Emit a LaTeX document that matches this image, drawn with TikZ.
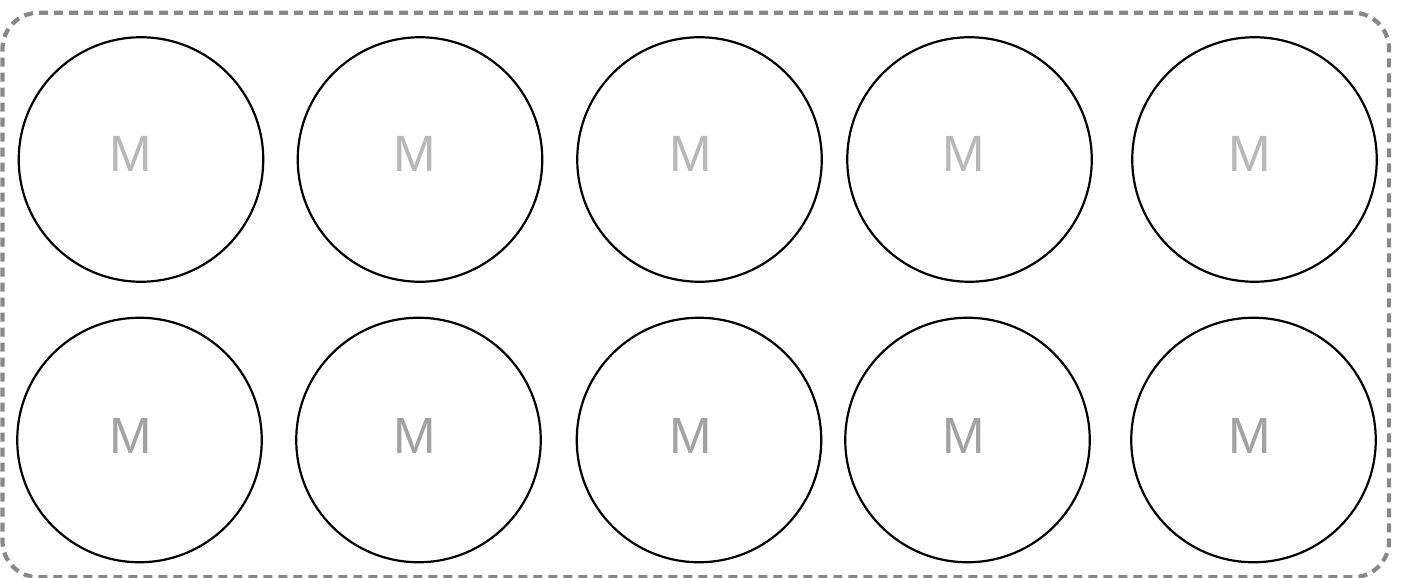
\documentclass[tikz,border=0pt]{standalone}
\usepackage{fontspec}
\setmainfont{Liberation Sans}
\usetikzlibrary{calc}
\definecolor{bordergray}{HTML}{888888}
\definecolor{mtop}{HTML}{B8B8B8}
\definecolor{mbot}{HTML}{A2A2A2}
\begin{document}
\begin{tikzpicture}[x=1pt,y=-1pt,
  disc/.style={circle,draw=black,line width=2.2pt,minimum size=244.5pt,inner sep=0pt,fill=white},
  mlabel/.style={inner sep=0pt,font=\fontsize{51}{60}\selectfont},
  frame/.style={draw=bordergray,line width=4.2pt,dash pattern=on 9pt off 6pt,rounded corners=36pt}]
\useasboundingbox (0,0) rectangle (1405,578);
\node[frame,minimum width=1386.5pt,minimum height=564.5pt,inner sep=0pt] (frame) at (695.75,295) {};
% top row
\node[disc] (a1) at (141,159.5) {};
\node[disc] (a2) at (420,159.5) {};
\node[disc] (a3) at (699.5,159.5) {};
\node[disc] (a4) at (969.5,159.5) {};
\node[disc] (a5) at (1254.5,159.5) {};
% bottom row
\node[disc] (b1) at (139.5,440) {};
\node[disc] (b2) at (418.5,440) {};
\node[disc] (b3) at (699,440) {};
\node[disc] (b4) at (967.5,440) {};
\node[disc] (b5) at (1253.5,440) {};
% labels
\node[mlabel,text=mtop] (ta1) at ($(a1)+(-10.5,-6)$) {M};
\node[mlabel,text=mtop] (ta2) at ($(a2)+(-5,-6)$) {M};
\node[mlabel,text=mtop] (ta3) at ($(a3)+(-9,-6)$) {M};
\node[mlabel,text=mtop] (ta4) at ($(a4)+(-5.5,-6)$) {M};
\node[mlabel,text=mtop] (ta5) at ($(a5)+(-5,-6)$) {M};
\node[mlabel,text=mbot] (tb1) at ($(b1)+(-9,-4.5)$) {M};
\node[mlabel,text=mbot] (tb2) at ($(b2)+(-3.5,-4.5)$) {M};
\node[mlabel,text=mbot] (tb3) at ($(b3)+(-8.5,-4.5)$) {M};
\node[mlabel,text=mbot] (tb4) at ($(b4)+(-3.5,-4.5)$) {M};
\node[mlabel,text=mbot] (tb5) at ($(b5)+(-4,-4.5)$) {M};
\end{tikzpicture}
\end{document}
